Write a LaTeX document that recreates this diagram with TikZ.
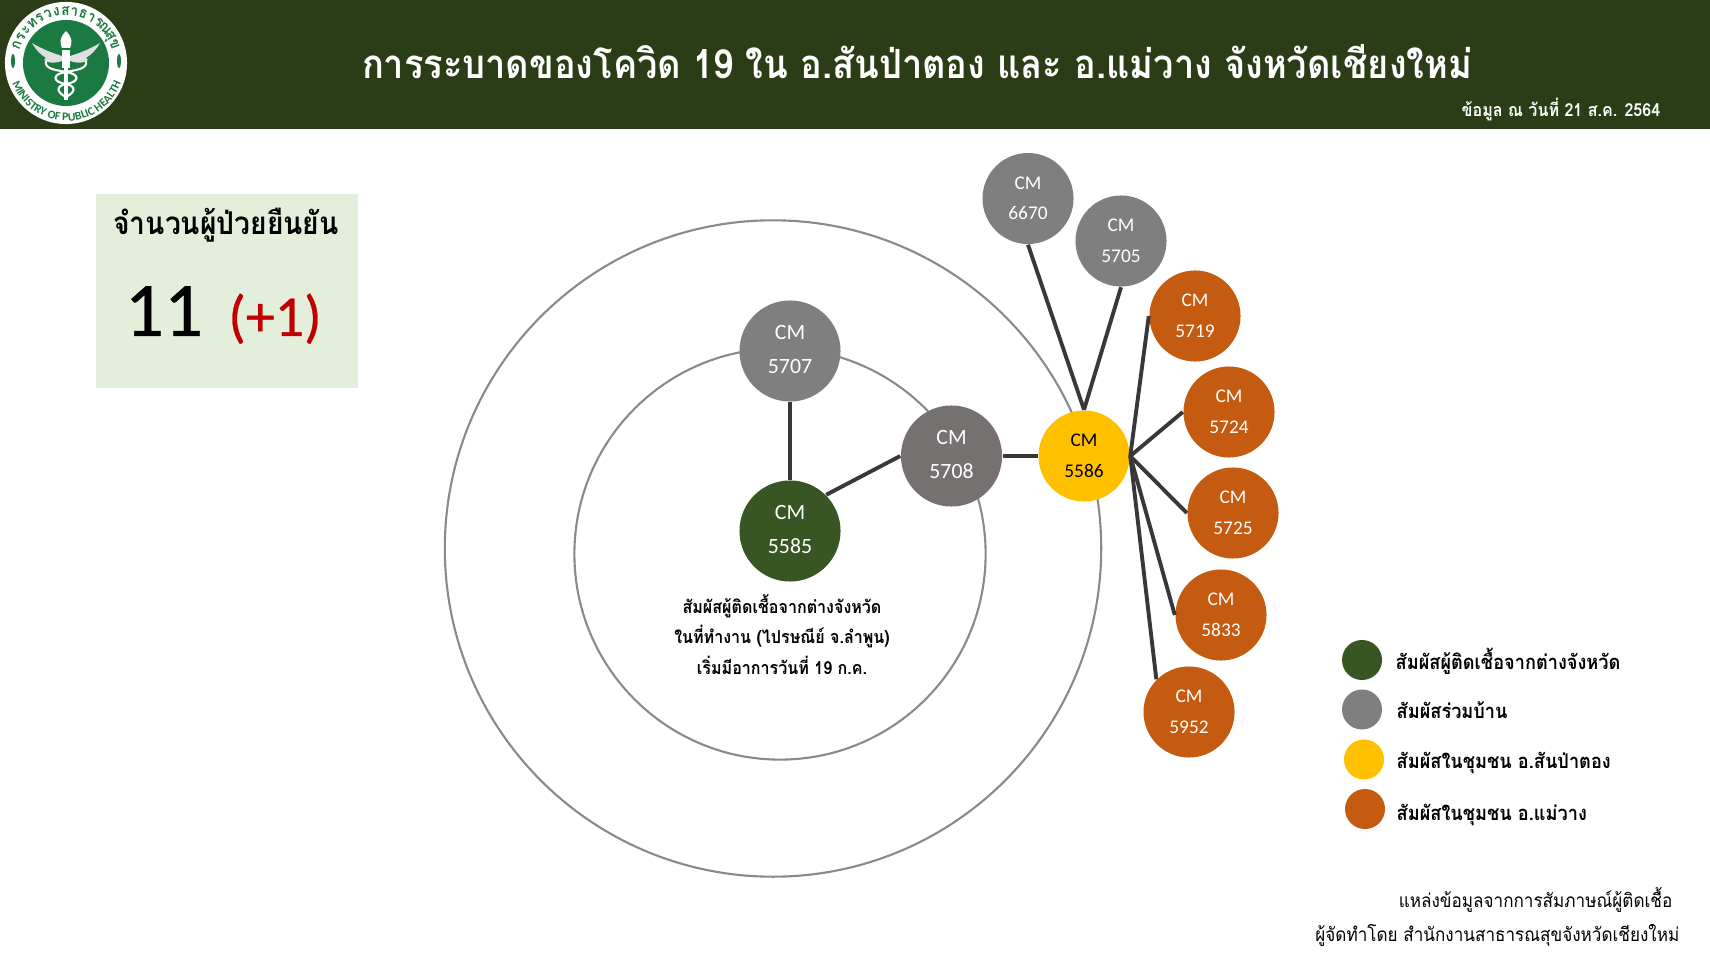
\documentclass[tikz,border=0pt]{standalone}
\usepackage{fontspec}
\setmainfont{Carlito}
\newfontfamily\thaifont[Script=Thai,FakeStretch=0.9]{Loma}
\newfontfamily\countfont[FakeBold=0.5]{Carlito}
\usetikzlibrary{decorations.text}
\definecolor{header green}{HTML}{2A3D17}
\definecolor{logo green}{HTML}{1B7A42}
\definecolor{box green}{HTML}{E3EFDA}
\definecolor{case green}{HTML}{375623}
\definecolor{case gray}{HTML}{7F7F7F}
\definecolor{case dark}{HTML}{767171}
\definecolor{case yellow}{HTML}{FFC000}
\definecolor{case orange}{HTML}{C55A11}
\definecolor{plus red}{HTML}{C00000}
\colorlet{ring edge}{black!46}
\colorlet{link edge}{black!78}
\def\outerring{(773,548.5) circle (3.28cm)}
\def\innerring{(780,554) circle (2.055cm)}
\def\logowing{(62,56) .. controls (52,53) and (42,49) .. (32,43) .. controls (36,50) and (40,54) .. (46,58) -- (44,60) .. controls (50,64) and (56,63) .. (62,61) -- cycle}
\def\logosnake{(46,61) .. controls (44,69) and (56,70) .. (66,72) .. controls (80,74) and (80,82) .. (66,84) .. controls (56,86) and (56,92) .. (66,97)}
\tikzset{bigcase/.style={circle, minimum size=1.01cm, inner sep=0pt, text=white, align=center, text depth=1pt, font=\fontsize{6.2}{9.6}\selectfont},
	smallcase/.style={circle, minimum size=0.91cm, inner sep=0pt, text=white, align=center, text depth=0.2pt, font=\fontsize{5.5}{8.7}\selectfont},
	link/.style={draw=link edge, line width=1.1pt},
	ring/.style={draw=ring edge, line width=0.6pt},
	thaitext/.style={anchor=base, inner sep=0pt, font=\thaifont\bfseries\fontsize{5.08}{6}\selectfont},
	legendtext/.style={anchor=base west, inner sep=0pt, font=\thaifont\bfseries\fontsize{5.74}{7}\selectfont},
	sourcetext/.style={anchor=base east, inner sep=0pt, font=\thaifont\fontsize{5.4}{7}\selectfont},
	sealtext/.style={anchor=base, inner sep=0pt, text=logo green, font=\thaifont\bfseries\fontsize{4.3}{5}\selectfont},
	legend/.style={circle, minimum size=0.4cm, inner sep=0pt}}
\begin{document}
\begin{tikzpicture}[x=0.01cm, y=-0.01cm]
		\useasboundingbox (0,0) rectangle (1710,958);
		\fill[header green] (0,0) rectangle (1710,129);
		\node[thaitext, text=white, font=\thaifont\bfseries\fontsize{11.44}{13}\selectfont] (title) at (917,79) {การระบาดของโควิด 19 ใน อ.สันป่าตอง และ อ.แม่วาง จังหวัดเชียงใหม่};
		\node[thaitext, text=white, anchor=base east] (date) at (1661,116.5) {ข้อมูล ณ วันที่ 21 ส.ค. 2564};

		\fill[white] (66,63) circle (0.61cm);
		\fill[logo green] (66,63) circle (0.43cm);
		\foreach \ch [count=\i, evaluate=\i as \a using 160-(\i-1)*9.9] in {ก,ร,ะ,ท,ร,ว,ง,ส,า,ธ,า,ร,ณ,สุ,ข}
			\node[sealtext, rotate=\a-90] (seal\i) at ({66+48*cos(\a)},{63-48*sin(\a)}) {\ch};
		\path[postaction={decorate, decoration={text along path, text align=center, text color=logo green,
			text={|\bfseries\fontsize{3.3}{4}\selectfont|MINISTRY OF PUBLIC HEALTH}}}]
			(9.5,73) arc[start angle=190, end angle=350, radius=0.58cm];
		\fill[logo green] (13,61) ellipse (0.02cm and 0.07cm);
		\fill[logo green] (119,61) ellipse (0.02cm and 0.07cm);
		\fill[white] (62,50) rectangle (70,68);
		\fill[white] (66,31) .. controls (59,38) and (60,44) .. (62,48) -- (70,48) .. controls (72,44) and (73,38) .. (66,31);
		\fill[white!88!black] \logowing;
		\draw[white, line width=0.6pt] \logosnake;
		\begin{scope}[shift={(132,0)}, xscale=-1]
			\fill[white!88!black] \logowing;
			\draw[white, line width=0.6pt] \logosnake;
		\end{scope}
		\draw[white, line width=0.9pt] (66,66) -- (66,100);

		\fill[box green] (96,194) rectangle (358,388);
		\node[thaitext, font=\thaifont\bfseries\fontsize{8.92}{10}\selectfont] (boxtitle) at (226,235) {จำนวนผู้ป่วยยืนยัน};
		\node[anchor=base, inner sep=0pt, font=\countfont\fontsize{22}{26}\selectfont] (count) at (164,336) {11};
		\node[anchor=base, inner sep=0pt, text=plus red, font=\countfont\fontsize{16.5}{18}\selectfont] (extra) at (275,336) {(+1)};

		\draw[ring] \outerring;
		\draw[ring] \innerring;

		\node[bigcase, fill=case gray] (c5707) at (790,351) {CM\\5707};
		\node[bigcase, fill=case green] (c5585) at (790,531) {CM\\5585};
		\node[bigcase, fill=case dark] (c5708) at (951.5,456) {CM\\5708};
		\node[smallcase, fill=case yellow, text=black] (c5586) at (1084,456) {CM\\5586};
		\node[smallcase, fill=case gray] (c6670) at (1028,198.5) {CM\\6670};
		\node[smallcase, fill=case gray] (c5705) at (1121,241) {CM\\5705};
		\node[smallcase, fill=case orange] (c5719) at (1195,316) {CM\\5719};
		\node[smallcase, fill=case orange] (c5724) at (1229,412) {CM\\5724};
		\node[smallcase, fill=case orange] (c5725) at (1233,513) {CM\\5725};
		\node[smallcase, fill=case orange] (c5833) at (1221,615) {CM\\5833};
		\node[smallcase, fill=case orange] (c5952) at (1189,712) {CM\\5952};

		\draw[link] (c5707) -- (c5585);
		\draw[link] (c5585.north east) -- (c5708.west);
		\draw[link] (c5708) -- (c5586);
		\draw[link] (c5586.north) -- (c6670.south);
		\draw[link] (c5586.north) -- (c5705.south);
		\draw[link] (c5586.east) -- (c5719.west);
		\draw[link] (c5586.east) -- (c5724.west);
		\draw[link] (c5586.east) -- (c5725.west);
		\draw[link] (c5586.east) -- (c5833.west);
		\draw[link] (c5586.east) -- (c5952.north west);

		\node[thaitext] (note a) at (782,613) {สัมผัสผู้ติดเชื้อจากต่างจังหวัด};
		\node[thaitext] (note b) at (782,643.5) {ในที่ทำงาน (ไปรษณีย์ จ.ลำพูน)};
		\node[thaitext] (note c) at (782,674) {เริ่มมีอาการวันที่ 19 ก.ค.};

		\node[legend, fill=case green] (leg a) at (1362,660) {};
		\node[legend, fill=case gray] (leg b) at (1362,709.5) {};
		\node[legend, fill=case yellow] (leg c) at (1364,759.5) {};
		\node[legend, fill=case orange] (leg d) at (1365,809) {};
		\node[legendtext] (txt a) at (1395,669) {สัมผัสผู้ติดเชื้อจากต่างจังหวัด};
		\node[legendtext] (txt b) at (1396,718) {สัมผัสร่วมบ้าน};
		\node[legendtext] (txt c) at (1396,768) {สัมผัสในชุมชน อ.สันป่าตอง};
		\node[legendtext] (txt d) at (1396,820) {สัมผัสในชุมชน อ.แม่วาง};

		\node[sourcetext] (src a) at (1673,907) {แหล่งข้อมูลจากการสัมภาษณ์ผู้ติดเชื้อ};
		\node[sourcetext] (src b) at (1680,941) {ผู้จัดทำโดย สำนักงานสาธารณสุขจังหวัดเชียงใหม่};
		\end{tikzpicture}
\end{document}
